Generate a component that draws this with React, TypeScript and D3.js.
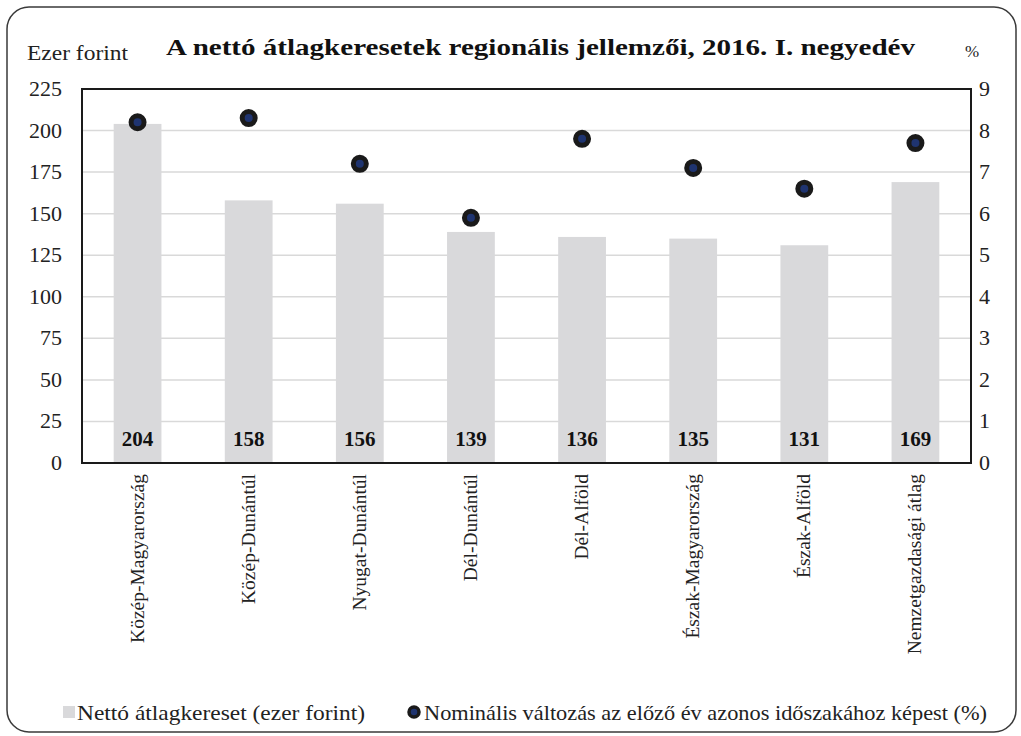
import React from "react";
import * as d3 from "d3";

const categories = [
  "Közép-Magyarország",
  "Közép-Dunántúl",
  "Nyugat-Dunántúl",
  "Dél-Dunántúl",
  "Dél-Alföld",
  "Észak-Magyarország",
  "Észak-Alföld",
  "Nemzetgazdasági átlag",
];
const earnings = [204, 158, 156, 139, 136, 135, 131, 169];
const changePct = [8.2, 8.3, 7.2, 5.9, 7.8, 7.1, 6.6, 7.7];
const leftTicks = [0, 25, 50, 75, 100, 125, 150, 175, 200, 225];
const rightTicks = [0, 1, 2, 3, 4, 5, 6, 7, 8, 9];

const title = "A nettó átlagkeresetek regionális jellemzői, 2016. I. negyedév";
const leftUnit = "Ezer forint";
const rightUnit = "%";
const legendBar = "Nettó átlagkereset (ezer forint)";
const legendDot = "Nominális változás az előző év azonos időszakához képest (%)";

const W = 1021;
const H = 736;
const plot = { left: 82, right: 971, top: 89, bottom: 463 };
const FONT = "'Liberation Serif', 'Times New Roman', serif";

export default function App() {
  const x = d3
    .scaleBand<string>()
    .domain(categories)
    .range([plot.left, plot.right])
    .paddingInner(0.57)
    .paddingOuter(0.285);
  const yL = d3.scaleLinear().domain([0, 225]).range([plot.bottom, plot.top]);
  const yR = d3.scaleLinear().domain([0, 9]).range([plot.bottom, plot.top]);
  const cx = (c: string) => (x(c) as number) + x.bandwidth() / 2;

  return (
    <svg
      width={W}
      height={H}
      style={{ position: "absolute", left: 0, top: 0, background: "#fff", fontFamily: FONT }}
    >
      <rect x={0} y={0} width={W} height={H} fill="#fff" />
      <rect
        x={7}
        y={7}
        width={1009}
        height={725}
        rx={22}
        ry={22}
        fill="#fff"
        stroke="#3a3a3a"
        strokeWidth={1.5}
      />
      <text
        x={166}
        y={55}
        fontSize={24}
        fontWeight="bold"
        fill="#111"
        textLength={749}
        lengthAdjust="spacingAndGlyphs"
      >
        {title}
      </text>
      <text x={27} y={60} fontSize={22} fill="#222" textLength={101} lengthAdjust="spacingAndGlyphs">
        {leftUnit}
      </text>
      <text x={972} y={57} textAnchor="middle" fontSize={17} fill="#222">
        {rightUnit}
      </text>

      {leftTicks.map((t) => (
        <line
          key={"g" + t}
          x1={plot.left}
          x2={plot.right}
          y1={yL(t)}
          y2={yL(t)}
          stroke="#d9d9d9"
          strokeWidth={1.5}
        />
      ))}

      {categories.map((c, i) => (
        <rect
          key={"b" + c}
          x={x(c)}
          y={yL(earnings[i])}
          width={x.bandwidth()}
          height={yL(0) - yL(earnings[i])}
          fill="#d9d9db"
        />
      ))}

      {categories.map((c, i) => (
        <text
          key={"bl" + c}
          x={cx(c)}
          y={446}
          textAnchor="middle"
          fontSize={21}
          fontWeight="bold"
          fill="#111"
        >
          {earnings[i]}
        </text>
      ))}

      <rect
        x={plot.left}
        y={plot.top}
        width={plot.right - plot.left}
        height={plot.bottom - plot.top}
        fill="none"
        stroke="#1a1a1a"
        strokeWidth={2}
      />

      {categories.map((c, i) => (
        <circle
          key={"d" + c}
          cx={cx(c)}
          cy={yR(changePct[i])}
          r={6.5}
          fill="#1f3470"
          stroke="#1a1a1a"
          strokeWidth={5}
        />
      ))}

      {leftTicks.map((t) => (
        <text
          key={"lt" + t}
          x={62}
          y={yL(t) + 7}
          textAnchor="end"
          fontSize={22}
          fill="#222"
        >
          {t}
        </text>
      ))}
      {rightTicks.map((t) => (
        <text key={"rt" + t} x={979} y={yR(t) + 7} fontSize={22} fill="#222">
          {t}
        </text>
      ))}

      {categories.map((c) => (
        <text
          key={"xl" + c}
          transform={`translate(${cx(c) + 6},${474}) rotate(-90)`}
          textAnchor="end"
          fontSize={19.5}
          fill="#222"
        >
          {c}
        </text>
      ))}

      <rect x={63} y={706} width={12} height={12} fill="#d9d9db" />
      <text x={77} y={720} fontSize={21} fill="#222" textLength={288} lengthAdjust="spacingAndGlyphs">
        {legendBar}
      </text>
      <circle cx={414} cy={712} r={5} fill="#1f3470" stroke="#1a1a1a" strokeWidth={3.5} />
      <text x={424} y={720} fontSize={21} fill="#222" textLength={563} lengthAdjust="spacingAndGlyphs">
        {legendDot}
      </text>
    </svg>
  );
}
